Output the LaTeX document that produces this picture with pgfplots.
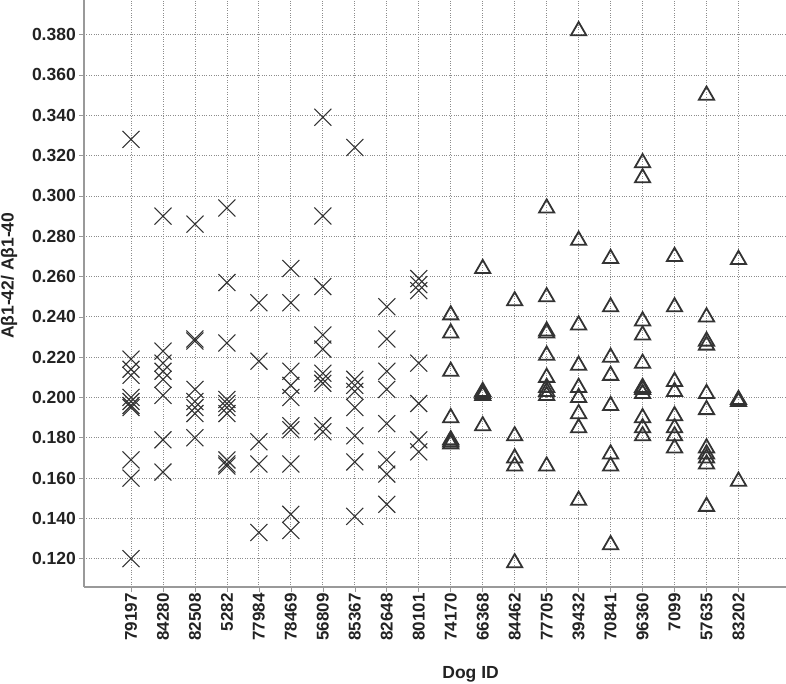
\documentclass[border=0pt]{standalone}
\usepackage{fontspec}
\setmainfont{Liberation Sans}
\usepackage{pgfplots}
\pgfplotsset{compat=1.18}
\definecolor{mk}{HTML}{333333}
\definecolor{txt}{HTML}{222222}
\begin{document}
\begin{tikzpicture}
\path[use as bounding box] (0,0) rectangle (786pt,683pt);
\begin{axis}[
  at={(84pt,96.3pt)}, anchor=south west,
  scale only axis, width=702pt, height=586.7pt,
  xmin=-1.47, xmax=20.486, ymin=0.1061, ymax=0.3972,
  axis x line*=bottom, axis y line*=left,
  axis line style={-, draw=black!40, line width=1.6pt},
  xtick={0,...,19},
  xticklabels={79197,84280,82508,5282,77984,78469,56809,85367,82648,80101,74170,66368,84462,77705,39432,70841,96360,7099,57635,83202},
  ytick={0.12,0.14,0.16,0.18,0.20,0.22,0.24,0.26,0.28,0.30,0.32,0.34,0.36,0.38},
  yticklabel style={/pgf/number format/fixed, /pgf/number format/fixed zerofill, /pgf/number format/precision=3, /pgf/number format/assume math mode=true, font=\fontsize{17.5}{17.5}\selectfont\bfseries, text=txt, inner sep=3pt},
  xticklabel style={rotate=90, anchor=east, inner sep=1.5pt, font=\fontsize{17}{17}\selectfont\bfseries, text=txt},
  tick align=outside,
  x tick style={draw=black!40, line width=0.6pt},
  y tick style={draw=black!40, line width=0.6pt},
  xmajorgrids, ymajorgrids,
  major grid style={dotted, draw=black!45, line width=0.8pt},
  major tick length=5pt,
  clip=false,
  xlabel={Dog ID}, ylabel={Aβ1-42/ Aβ1-40},
  xlabel style={at={(rel axis cs:0.5507,-0.1567)}, anchor=base, font=\fontsize{17.5}{17.5}\selectfont\bfseries, text=txt},
  ylabel style={at={(rel axis cs:-0.1068,0.53)}, anchor=center, rotate=0, font=\fontsize{17.5}{17.5}\selectfont\bfseries, text=txt},
]
\addplot[only marks, mark=x, mark size=12pt, draw=mk, line width=1.1pt] coordinates {
(0,0.328) (0,0.219) (0,0.214) (0,0.211) (0,0.200) (0,0.198) (0,0.196) (0,0.195) (0,0.169) (0,0.160) (0,0.120)
(1,0.290) (1,0.223) (1,0.217) (1,0.213) (1,0.209) (1,0.201) (1,0.179) (1,0.163)
(2,0.286) (2,0.229) (2,0.228) (2,0.204) (2,0.198) (2,0.195) (2,0.192) (2,0.180)
(3,0.294) (3,0.257) (3,0.227) (3,0.199) (3,0.197) (3,0.195) (3,0.192) (3,0.169) (3,0.167) (3,0.166)
(4,0.247) (4,0.218) (4,0.178) (4,0.167) (4,0.133)
(5,0.264) (5,0.247) (5,0.213) (5,0.206) (5,0.200) (5,0.186) (5,0.184) (5,0.167) (5,0.142) (5,0.134)
(6,0.339) (6,0.290) (6,0.255) (6,0.231) (6,0.224) (6,0.212) (6,0.209) (6,0.207) (6,0.186) (6,0.183)
(7,0.324) (7,0.209) (7,0.206) (7,0.203) (7,0.195) (7,0.181) (7,0.168) (7,0.141)
(8,0.245) (8,0.229) (8,0.213) (8,0.204) (8,0.187) (8,0.169) (8,0.162) (8,0.147)
(9,0.259) (9,0.256) (9,0.253) (9,0.217) (9,0.197) (9,0.179) (9,0.173)
};
\addplot[only marks, mark=triangle, mark size=8.8pt, draw=mk, line width=1.8pt, mark options={yshift=-2.2pt}] coordinates {
(10,0.242) (10,0.233) (10,0.214) (10,0.191) (10,0.180) (10,0.179) (10,0.178)
(11,0.265) (11,0.204) (11,0.203) (11,0.202) (11,0.187)
(12,0.249) (12,0.182) (12,0.171) (12,0.167) (12,0.119)
(13,0.295) (13,0.251) (13,0.234) (13,0.233) (13,0.222) (13,0.211) (13,0.206) (13,0.204) (13,0.202) (13,0.167)
(14,0.383) (14,0.279) (14,0.237) (14,0.217) (14,0.206) (14,0.201) (14,0.193) (14,0.186) (14,0.150)
(15,0.270) (15,0.246) (15,0.221) (15,0.212) (15,0.197) (15,0.173) (15,0.167) (15,0.128)
(16,0.3175) (16,0.310) (16,0.239) (16,0.232) (16,0.218) (16,0.206) (16,0.205) (16,0.203) (16,0.191) (16,0.186) (16,0.182)
(17,0.271) (17,0.246) (17,0.209) (17,0.204) (17,0.192) (17,0.186) (17,0.182) (17,0.176)
(18,0.351) (18,0.241) (18,0.229) (18,0.227) (18,0.203) (18,0.195) (18,0.176) (18,0.173) (18,0.171) (18,0.168) (18,0.147)
(19,0.2695) (19,0.200) (19,0.199) (19,0.1595)
};
\end{axis}
\end{tikzpicture}
\end{document}
